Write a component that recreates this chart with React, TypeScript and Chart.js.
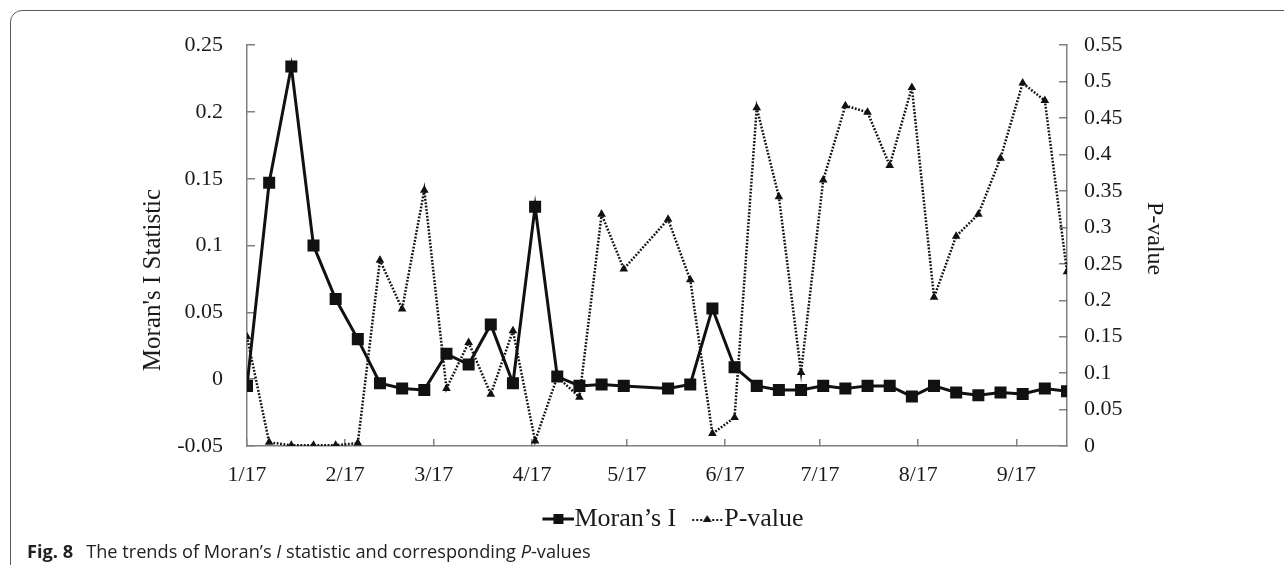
import React, { useEffect, useRef } from "react";
import { Chart, registerables } from "chart.js";

Chart.register(...registerables);

// ---------- data ----------
const weekDates = [
  "2017-01-01", "2017-01-08", "2017-01-15", "2017-01-22", "2017-01-29",
  "2017-02-05", "2017-02-12", "2017-02-19", "2017-02-26",
  "2017-03-05", "2017-03-12", "2017-03-19", "2017-03-26",
  "2017-04-02", "2017-04-09", "2017-04-16", "2017-04-23", "2017-04-30",
  "2017-05-14", "2017-05-21", "2017-05-28",
  "2017-06-04", "2017-06-11", "2017-06-18", "2017-06-25",
  "2017-07-02", "2017-07-09", "2017-07-16", "2017-07-23", "2017-07-30",
  "2017-08-06", "2017-08-13", "2017-08-20", "2017-08-27",
  "2017-09-03", "2017-09-10", "2017-09-17",
];

const moransI = [
  -0.005, 0.147, 0.234, 0.1, 0.06,
  0.03, -0.003, -0.007, -0.008,
  0.019, 0.011, 0.041, -0.003,
  0.129, 0.002, -0.005, -0.004, -0.005,
  -0.007, -0.004, 0.053,
  0.009, -0.005, -0.008, -0.008,
  -0.005, -0.007, -0.005, -0.005, -0.013,
  -0.005, -0.01, -0.012, -0.01,
  -0.011, -0.007, -0.009,
];

const pValues = [
  0.15, 0.005, 0.001, 0.001, 0.001,
  0.004, 0.255, 0.188, 0.351,
  0.079, 0.142, 0.071, 0.158,
  0.007, 0.095, 0.067, 0.318, 0.243,
  0.311, 0.228, 0.017,
  0.039, 0.464, 0.342, 0.101,
  0.365, 0.467, 0.458, 0.385, 0.492,
  0.204, 0.288, 0.318, 0.395,
  0.498, 0.474, 0.239,
];

const monthTickDates = [
  "2017-01-01", "2017-02-01", "2017-03-01", "2017-04-01", "2017-05-01",
  "2017-06-01", "2017-07-01", "2017-08-01", "2017-09-01",
];
const monthTickLabels = ["1/17", "2/17", "3/17", "4/17", "5/17", "6/17", "7/17", "8/17", "9/17"];

const leftTickValues = [-0.05, 0, 0.05, 0.1, 0.15, 0.2, 0.25];
const leftTickLabels = ["-0.05", "0", "0.05", "0.1", "0.15", "0.2", "0.25"];
const rightTickValues = [0, 0.05, 0.1, 0.15, 0.2, 0.25, 0.3, 0.35, 0.4, 0.45, 0.5, 0.55];
const rightTickLabels = ["0", "0.05", "0.1", "0.15", "0.2", "0.25", "0.3", "0.35", "0.4", "0.45", "0.5", "0.55"];

const seriesNames = ["Moran\u2019s I", "P-value"];
const leftAxisTitle = "Moran's I Statistic";
const rightAxisTitle = "P-value";

// ---------- helpers ----------
const BASE = Date.UTC(2017, 0, 1);
const dayOf = (s: string) => {
  const [y, m, d] = s.split("-").map(Number);
  return (Date.UTC(y, m - 1, d) - BASE) / 86400000;
};

const SERIF = '"Liberation Serif", "Times New Roman", serif';
const INK = "#1a1a1a";
const AXIS = "#808080";

function makeIcon(kind: "square" | "triangle"): HTMLCanvasElement {
  const c = document.createElement("canvas");
  c.width = 46;
  c.height = 16;
  const g = c.getContext("2d")!;
  g.strokeStyle = "#111";
  g.fillStyle = "#111";
  const x0 = 14;
  if (kind === "square") {
    g.lineWidth = 3;
    g.beginPath();
    g.moveTo(x0, 8);
    g.lineTo(x0 + 32, 8);
    g.stroke();
    g.fillRect(x0 + 11, 3, 10, 10);
  } else {
    g.lineWidth = 2;
    g.setLineDash([2, 2]);
    g.beginPath();
    g.moveTo(x0, 9);
    g.lineTo(x0 + 30, 9);
    g.stroke();
    g.setLineDash([]);
    g.beginPath();
    g.moveTo(x0 + 15, 4);
    g.lineTo(x0 + 19.5, 11);
    g.lineTo(x0 + 10.5, 11);
    g.closePath();
    g.fill();
  }
  return c;
}

const axisTitlePlugin = {
  id: "axisTitles",
  afterDraw(chart: any) {
    const { ctx, chartArea } = chart;
    ctx.save();
    ctx.fillStyle = INK;
    ctx.textAlign = "center";
    ctx.textBaseline = "middle";
    // left title
    ctx.save();
    ctx.font = `25px ${SERIF}`;
    ctx.translate(chartArea.left - 94, chartArea.bottom - 166);
    ctx.rotate(-Math.PI / 2);
    ctx.fillText(leftAxisTitle, 0, 0);
    ctx.restore();
    // right title
    ctx.save();
    ctx.font = `24px ${SERIF}`;
    ctx.translate(chartArea.right + 87, (chartArea.top + chartArea.bottom) / 2 - 7);
    ctx.rotate(Math.PI / 2);
    ctx.fillText(rightAxisTitle, 0, 0);
    ctx.restore();
    ctx.restore();
  },
};

export default function App() {
  const ref = useRef<HTMLCanvasElement | null>(null);

  useEffect(() => {
    if (!ref.current) return;
    const xs = weekDates.map(dayOf);
    const monthDays = monthTickDates.map(dayOf);
    const icons = [makeIcon("square"), makeIcon("triangle")];

    const chart = new Chart(ref.current, {
      type: "line",
      data: {
        datasets: [
          {
            label: seriesNames[0],
            data: xs.map((x, i) => ({ x, y: moransI[i] })),
            yAxisID: "y",
            borderColor: "#111",
            backgroundColor: "#111",
            borderWidth: 3,
            pointStyle: "rect",
            pointRadius: 8.5,
            pointBorderWidth: 0,
            tension: 0,
          },
          {
            label: seriesNames[1],
            data: xs.map((x, i) => ({ x, y: pValues[i] })),
            yAxisID: "y1",
            borderColor: "#111",
            backgroundColor: "#111",
            borderWidth: 2.5,
            borderDash: [1.8, 1.6],
            pointStyle: "triangle",
            pointRadius: 5,
            pointBorderWidth: 0,
            tension: 0,
          },
        ],
      },
      options: {
        animation: false,
        responsive: false,
        devicePixelRatio: 1,
        layout: { padding: { left: 61, right: 0, top: 34, bottom: 0 } },
        plugins: {
          tooltip: { enabled: false },
          legend: {
            display: true,
            position: "bottom",
            labels: {
              usePointStyle: true,
              pointStyleWidth: 20,
              padding: 15,
              color: INK,
              font: { family: SERIF, size: 26 },
              generateLabels: (ch: any) =>
                ch.data.datasets.map((ds: any, i: number) => ({
                  text: ds.label,
                  pointStyle: icons[i],
                  fillStyle: "#111",
                  strokeStyle: "#111",
                  lineWidth: 0,
                  hidden: false,
                  datasetIndex: i,
                  fontColor: INK,
                })),
            },
          },
        },
        scales: {
          x: {
            type: "linear",
            min: xs[0],
            max: xs[xs.length - 1],
            afterBuildTicks: (s: any) => {
              s.ticks = monthDays.map((v) => ({ value: v }));
            },
            afterFit: (s: any) => {
              s.height = 45;
            },
            ticks: {
              autoSkip: false,
              maxRotation: 0,
              padding: 23,
              color: INK,
              font: { family: SERIF, size: 22 },
              callback: (_v: any, i: number) => monthTickLabels[i],
            },
            grid: { drawOnChartArea: false, drawTicks: true, tickLength: -7, color: AXIS, lineWidth: 1.5 },
            border: { display: true, color: AXIS, width: 1.5 },
          },
          y: {
            type: "linear",
            position: "left",
            min: leftTickValues[0],
            max: leftTickValues[leftTickValues.length - 1],
            afterBuildTicks: (s: any) => {
              s.ticks = leftTickValues.map((v) => ({ value: v }));
            },
            afterFit: (s: any) => {
              s.width = 186;
            },
            ticks: {
              padding: 32,
              color: INK,
              font: { family: SERIF, size: 22 },
              callback: (_v: any, i: number) => leftTickLabels[i],
            },
            grid: { drawOnChartArea: false, drawTicks: true, tickLength: -8, color: AXIS, lineWidth: 1.5 },
            border: { display: true, color: AXIS, width: 1.5 },
          },
          y1: {
            type: "linear",
            position: "right",
            min: rightTickValues[0],
            max: rightTickValues[rightTickValues.length - 1],
            afterBuildTicks: (s: any) => {
              s.ticks = rightTickValues.map((v) => ({ value: v }));
            },
            afterFit: (s: any) => {
              s.width = 217;
            },
            ticks: {
              padding: 25,
              color: INK,
              font: { family: SERIF, size: 22 },
              callback: (_v: any, i: number) => rightTickLabels[i],
            },
            grid: { drawOnChartArea: false, drawTicks: true, tickLength: -8, color: AXIS, lineWidth: 1.5 },
            border: { display: true, color: AXIS, width: 1.5 },
          },
        },
      },
      plugins: [axisTitlePlugin],
    } as any);

    return () => chart.destroy();
  }, []);

  return (
    <div
      style={{
        position: "fixed",
        left: 0,
        top: 0,
        width: 1284,
        height: 565,
        overflow: "hidden",
        background: "#fff",
      }}
    >
      <div
        style={{
          position: "absolute",
          left: 10,
          top: 10,
          width: 1320,
          height: 568,
          border: "1.5px solid #5a5a5a",
          borderRadius: 12,
          boxSizing: "border-box",
        }}
      />
      <canvas
        ref={ref}
        width={1284}
        height={542}
        style={{ position: "absolute", left: 0, top: 0, width: 1284, height: 542 }}
      />
      <div
        style={{
          position: "absolute",
          left: 27,
          top: 541,
          fontFamily: '"Open Sans", sans-serif',
          fontSize: 18.2,
          lineHeight: "20px",
          color: "#222",
          whiteSpace: "nowrap",
        }}
      >
        <span style={{ fontWeight: 700, marginRight: 13 }}>Fig. 8</span>
        The trends of Moran’s <i>I</i> statistic and corresponding <i>P</i>-values
      </div>
    </div>
  );
}
